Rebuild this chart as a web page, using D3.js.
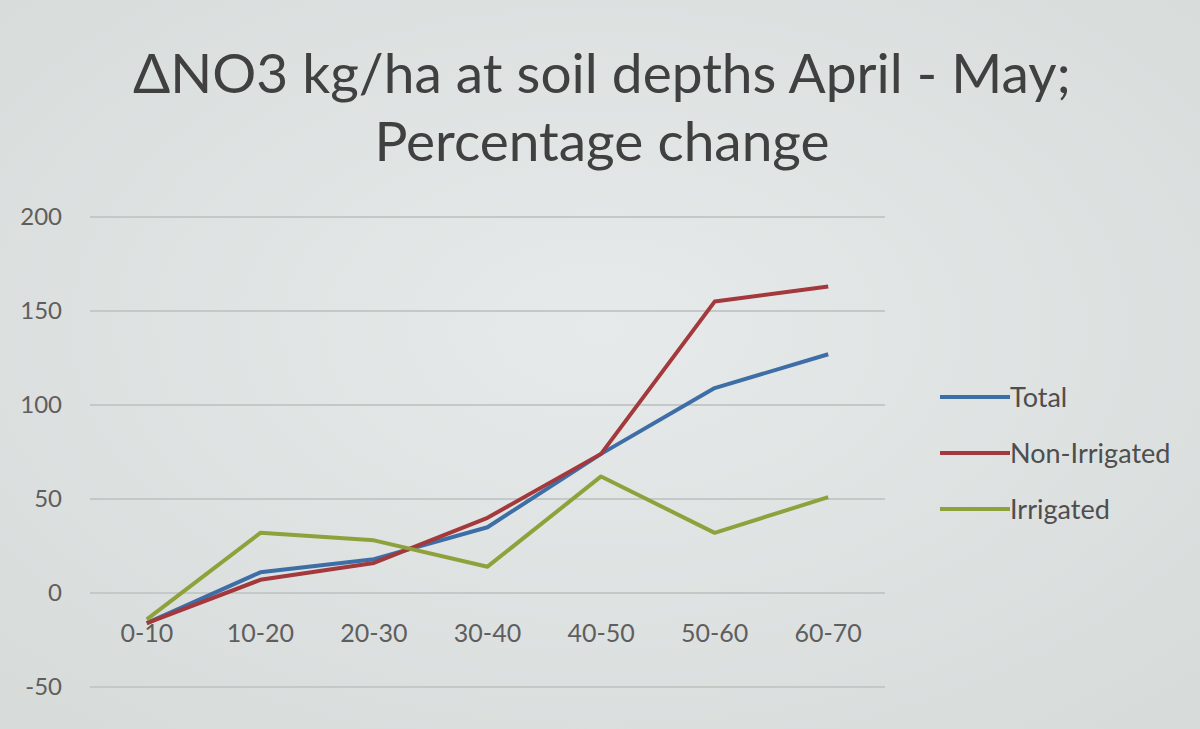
<!DOCTYPE html>
<html>
<head>
<meta charset="utf-8">
<script src="https://cdn.jsdelivr.net/npm/d3@7"></script>
<style>
  html, body { margin: 0; padding: 0; background: #e0e3e2; }
  svg { display: block; }
</style>
</head>
<body>
<svg id="chart" width="1200" height="729"></svg>
<script>
const depths = ["0-10", "10-20", "20-30", "30-40", "40-50", "50-60", "60-70"];
const total = [-16, 11, 18, 35, 74, 109, 127];
const nonIrrigated = [-16, 7, 16, 40, 74, 155, 163];
const irrigated = [-14, 32, 28, 14, 62, 32, 51];
const yTicks = [-50, 0, 50, 100, 150, 200];
const titleLines = ["ΔNO3 kg/ha at soil depths April - May;", "Percentage change"];

const series = [
  { label: "Total", values: total, color: "#3e6ea6" },
  { label: "Non-Irrigated", values: nonIrrigated, color: "#a3383d" },
  { label: "Irrigated", values: irrigated, color: "#8ea23c" },
];

const svg = d3.select("#chart");
const w = 1200, h = 729;

// soft vignette like the photographed screen
const defs = svg.append("defs");
const grad = defs.append("radialGradient").attr("id", "bg").attr("cx", "50%").attr("cy", "45%").attr("r", "70%");
grad.append("stop").attr("offset", "0%").attr("stop-color", "#e7eaea");
grad.append("stop").attr("offset", "100%").attr("stop-color", "#d7dbda");
svg.append("rect").attr("width", w).attr("height", h).attr("fill", "url(#bg)");

const m = { left: 90, right: 315, top: 217, bottom: 42 };
const font = "Lato, 'Open Sans', sans-serif";

const x = d3.scalePoint()
  .domain(depths)
  .range([m.left, w - m.right])
  .padding(0.5);

const y = d3.scaleLinear()
  .domain([-50, 200])
  .range([h - m.bottom, m.top]);

// gridlines
svg.append("g")
  .selectAll("line")
  .data(yTicks)
  .join("line")
  .attr("x1", m.left)
  .attr("x2", w - m.right)
  .attr("y1", d => y(d))
  .attr("y2", d => y(d))
  .attr("stroke", "#c4c8c7")
  .attr("stroke-width", 2);

// y tick labels
svg.append("g")
  .selectAll("text")
  .data(yTicks)
  .join("text")
  .attr("x", 62)
  .attr("y", d => y(d))
  .attr("dy", "0.35em")
  .attr("text-anchor", "end")
  .attr("font-family", font)
  .attr("font-size", 24)
  .attr("fill", "#5e5e5e")
  .text(d => d);

// category labels sit just under the zero line
svg.append("g")
  .selectAll("text")
  .data(depths)
  .join("text")
  .attr("x", d => x(d))
  .attr("y", y(0) + 49)
  .attr("text-anchor", "middle")
  .attr("font-family", font)
  .attr("font-size", 25)
  .attr("fill", "#5e5e5e")
  .text(d => d);

const line = d3.line()
  .x((d, i) => x(depths[i]))
  .y(d => y(d));

series.forEach(s => {
  svg.append("path")
    .datum(s.values)
    .attr("fill", "none")
    .attr("stroke", s.color)
    .attr("stroke-width", 4)
    .attr("stroke-linejoin", "round")
    .attr("d", line);
});

// legend
const lg = svg.append("g").attr("transform", "translate(940, 397)");
series.forEach((s, i) => {
  const row = lg.append("g").attr("transform", `translate(0, ${i * 56})`);
  row.append("line")
    .attr("x1", 0).attr("x2", 70)
    .attr("stroke", s.color)
    .attr("stroke-width", 4);
  row.append("text")
    .attr("x", 70)
    .attr("dy", "0.36em")
    .attr("font-family", font)
    .attr("font-size", 27)
    .attr("fill", "#4e4e4e")
    .text(s.label);
});

// title
svg.append("g")
  .selectAll("text")
  .data(titleLines)
  .join("text")
  .attr("x", 602)
  .attr("y", (d, i) => 93 + i * 68)
  .attr("text-anchor", "middle")
  .attr("font-family", font)
  .attr("font-size", 55)
  .attr("fill", "#404040")
  .text(d => d);
</script>
</body>
</html>
